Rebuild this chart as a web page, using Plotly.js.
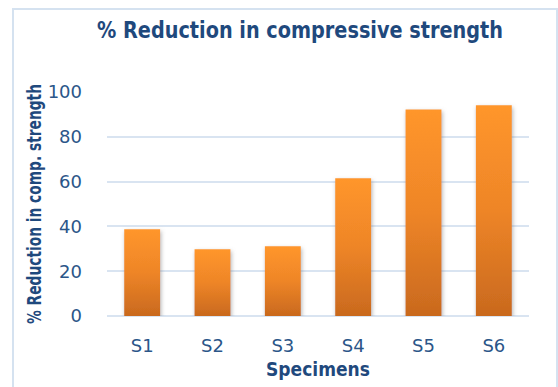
<!DOCTYPE html>
<html>
<head>
<meta charset="utf-8">
<script src="https://cdn.plot.ly/plotly-3.0.1.min.js"></script>
<style>
  html, body { margin: 0; padding: 0; background: #ffffff; }
  #chart { width: 558px; height: 387px; }
</style>
</head>
<body>
<div id="chart"></div>
<script>
// Specimens and their % reduction in compressive strength
const specimens = ['S1', 'S2', 'S3', 'S4', 'S5', 'S6'];
const reduction = [38.7, 29.8, 31.1, 61.5, 92.2, 94.1];
const yTicks = [0, 20, 40, 60, 80, 100];

const NARROW = '"DejaVu Sans Condensed", "Liberation Sans Narrow", "Liberation Sans", Arial, sans-serif';
const REGULAR = '"DejaVu Sans", "Liberation Sans", Arial, sans-serif';
const DARK_BLUE = '#1F497D';
const TICK_BLUE = '#2B5689';
const GRID = '#D9E4F1';

const W = 558, H = 387;
const M = { l: 107, r: 29, t: 92, b: 71 };
const plotW = W - M.l - M.r, plotH = H - M.t - M.b;
// outer frame expressed in paper coordinates
const px = x => (x - M.l) / plotW;
const py = y => (H - M.b - y) / plotH;

const data = [{
  type: 'bar',
  x: specimens,
  y: reduction,
  marker: { color: '#E8822A', line: { width: 0 } },
  hoverinfo: 'x+y'
}];

const layout = {
  width: W, height: H,
  margin: M,
  paper_bgcolor: '#ffffff',
  plot_bgcolor: '#ffffff',
  bargap: 0.49,
  showlegend: false,
  title: {
    text: '<b>% Reduction in compressive strength</b>',
    font: { family: NARROW, size: 23, color: DARK_BLUE },
    x: 300 / W, xref: 'container', xanchor: 'center',
    y: 0.922, yref: 'container', yanchor: 'middle'
  },
  xaxis: {
    type: 'category',
    showgrid: false,
    showline: false,
    zeroline: false,
    ticks: '',
    tickfont: { family: REGULAR, size: 18, color: TICK_BLUE },
    ticklabelstandoff: 17,
    title: {
      text: '<b>Specimens</b>',
      font: { family: NARROW, size: 19, color: DARK_BLUE },
      standoff: 7
    }
  },
  yaxis: {
    range: [0, 100],
    tickvals: yTicks,
    ticktext: yTicks.map(String),
    showgrid: true,
    gridcolor: GRID,
    gridwidth: 2,
    zeroline: true,
    zerolinecolor: GRID,
    zerolinewidth: 2,
    showline: false,
    ticks: '',
    tickfont: { family: REGULAR, size: 18, color: TICK_BLUE },
    ticklabelstandoff: 24,
    title: {
      text: '<b>% Reduction in comp. strength</b>',
      font: { family: NARROW, size: 19, color: DARK_BLUE },
      standoff: 0
    }
  },
  shapes: [{
    type: 'rect', xref: 'paper', yref: 'paper',
    x0: px(13), x1: px(557), y0: py(400), y1: py(9),
    line: { color: '#D5E2F0', width: 2 },
    fillcolor: 'rgba(0,0,0,0)',
    layer: 'below'
  }]
};

Plotly.newPlot('chart', data, layout, { displayModeBar: false, staticPlot: true }).then(gd => {
  const svgNS = 'http://www.w3.org/2000/svg';

  // fit the narrow bold titles to their set lengths
  const fit = (sel, len) => {
    const t = gd.querySelector(sel);
    if (t) { t.setAttribute('textLength', len); t.setAttribute('lengthAdjust', 'spacingAndGlyphs'); }
  };
  fit('.g-gtitle text', 406);
  fit('.g-ytitle text', 240);

  // vertical orange gradient and soft shadow on the bars
  const svg = gd.querySelector('svg.main-svg');
  let defs = svg.querySelector('defs');
  if (!defs) { defs = document.createElementNS(svgNS, 'defs'); svg.insertBefore(defs, svg.firstChild); }

  const grad = document.createElementNS(svgNS, 'linearGradient');
  grad.setAttribute('id', 'barGrad');
  grad.setAttribute('x1', '0'); grad.setAttribute('y1', '0');
  grad.setAttribute('x2', '0'); grad.setAttribute('y2', '1');
  [['0', '#FF962C'], ['0.5', '#EE8527'], ['1', '#C9691E']].forEach(([o, c]) => {
    const s = document.createElementNS(svgNS, 'stop');
    s.setAttribute('offset', o); s.setAttribute('stop-color', c);
    grad.appendChild(s);
  });
  defs.appendChild(grad);

  const filt = document.createElementNS(svgNS, 'filter');
  filt.setAttribute('id', 'barShadow');
  filt.setAttribute('x', '-30%'); filt.setAttribute('y', '-10%');
  filt.setAttribute('width', '160%'); filt.setAttribute('height', '120%');
  const ds = document.createElementNS(svgNS, 'feDropShadow');
  ds.setAttribute('dx', '1'); ds.setAttribute('dy', '2');
  ds.setAttribute('stdDeviation', '2');
  ds.setAttribute('flood-color', '#808080');
  ds.setAttribute('flood-opacity', '0.6');
  filt.appendChild(ds);
  defs.appendChild(filt);

  gd.querySelectorAll('.trace.bars .point path').forEach(p => {
    p.style.fill = 'url(#barGrad)';
    p.style.fillOpacity = '1';
    p.setAttribute('filter', 'url(#barShadow)');
  });
});
</script>
</body>
</html>
